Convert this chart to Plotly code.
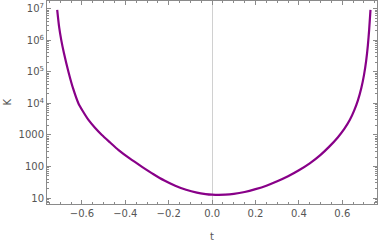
import plotly.graph_objects as go

t_vals = [-0.714, -0.705, -0.695, -0.683, -0.662, -0.640, -0.616, -0.597, -0.569, -0.540,
          -0.508, -0.470, -0.431, -0.380, -0.323, -0.270, -0.220, -0.170, -0.120, -0.070, -0.030,
          0.0, 0.030, 0.060, 0.100, 0.150, 0.200, 0.250, 0.300, 0.350, 0.400, 0.450, 0.500,
          0.540, 0.580, 0.610, 0.635, 0.655, 0.672, 0.688, 0.700, 0.710, 0.718, 0.724, 0.730]
logK_vals = [6.97, 6.42, 6.00, 5.60, 5.00, 4.46, 4.00, 3.77, 3.47, 3.23,
             3.00, 2.76, 2.52, 2.255, 1.99, 1.755, 1.555, 1.39, 1.26, 1.17, 1.126,
             1.106, 1.10, 1.105, 1.13, 1.19, 1.28, 1.39, 1.53, 1.69, 1.88, 2.10, 2.37,
             2.63, 2.93, 3.20, 3.48, 3.78, 4.10, 4.50, 4.90, 5.35, 5.85, 6.35, 6.97]
K_vals = [10 ** v for v in logK_vals]

ytick_vals = [10, 100, 1000, 1e4, 1e5, 1e6, 1e7]
ytick_text = ["10", "100", "1000", "10<sup>4</sup>", "10<sup>5</sup>", "10<sup>6</sup>", "10<sup>7</sup>"]
xtick_vals = [-0.6, -0.4, -0.2, 0.0, 0.2, 0.4, 0.6]
xtick_text = ["\u22120.6", "\u22120.4", "\u22120.2", "0.0", "0.2", "0.4", "0.6"]

fig = go.Figure()
fig.add_trace(go.Scatter(x=t_vals, y=K_vals, mode="lines",
                         line=dict(color="#880088", width=2.2, shape="spline", smoothing=0.6)))

font = dict(family="DejaVu Sans", size=10, color="#555555")
axis_common = dict(showline=True, linecolor="#8a8a8a", linewidth=1, mirror="ticks",
                   ticks="inside", tickcolor="#8a8a8a", showgrid=False, automargin=False,
                   tickfont=font)

fig.update_layout(
    width=382, height=243,
    margin=dict(l=47, r=5, t=1, b=39),
    paper_bgcolor="white", plot_bgcolor="white",
    showlegend=False,
    xaxis=dict(range=[-0.761, 0.760], tickvals=xtick_vals, ticktext=xtick_text, ticklen=4,
               zeroline=True, zerolinecolor="#d0d0d0", zerolinewidth=1,
               minor=dict(ticks="inside", ticklen=2, dtick=0.05, tick0=0, tickcolor="#8a8a8a"),
               **axis_common),
    yaxis=dict(type="log", range=[0.81, 7.25], tickvals=ytick_vals, ticktext=ytick_text, ticklen=4,
               zeroline=False,
               minor=dict(ticks="inside", ticklen=2, dtick="D1", tickcolor="#8a8a8a"),
               **axis_common),
    annotations=[
        dict(text="t", x=0.5, y=0, xref="paper", yref="paper", xanchor="center", yanchor="top",
             yshift=-25, showarrow=False, font=font),
        dict(text="K", x=0, y=0.5, xref="paper", yref="paper", xanchor="center", yanchor="middle",
             xshift=-40, textangle=-90, showarrow=False, font=font),
    ],
)

fig.write_html("out.html", config={"displayModeBar": False},
               post_script="document.body.style.margin='0';document.body.style.padding='0';")
